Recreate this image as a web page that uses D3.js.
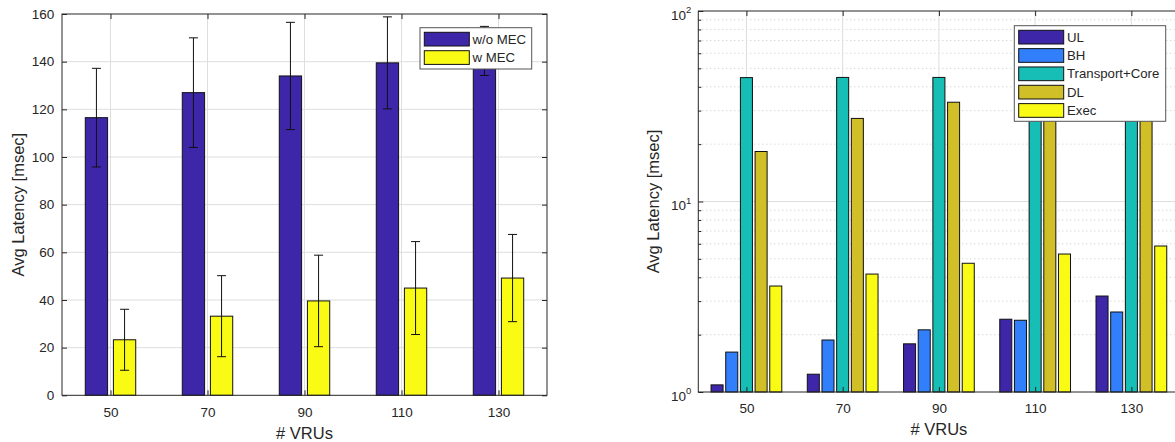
<!DOCTYPE html>
<html>
<head>
<meta charset="utf-8">
<script src="https://cdn.jsdelivr.net/npm/d3@7"></script>
<style>
  html, body { margin: 0; padding: 0; background: #fff; }
  svg { display: block; }
  text { font-family: "Liberation Sans", Arial, Helvetica, sans-serif; fill: #262626; }
</style>
</head>
<body>
<svg id="chart" width="1175" height="442"></svg>
<script>
// ---------- DATA ----------
const categories = [50, 70, 90, 110, 130];

// Left chart: average latency with/without MEC (msec) and error half-widths
const seriesLeftNames = ["w/o MEC", "w MEC"];
const woMEC    = [116.5, 127.0, 134.0, 139.5, 144.5];
const woMECErr = [20.7, 23.0, 22.5, 19.3, 10.3];
const wMEC     = [23.3, 33.2, 39.6, 45.0, 49.2];
const wMECErr  = [12.8, 17.0, 19.2, 19.5, 18.3];
const yTicksLeft = [0, 20, 40, 60, 80, 100, 120, 140, 160];

// Right chart: latency breakdown (log scale, msec)
const seriesRightNames = ["UL", "BH", "Transport+Core", "DL", "Exec"];
const UL            = [1.09, 1.24, 1.79, 2.41, 3.19];
const BH            = [1.62, 1.875, 2.12, 2.38, 2.63];
const TransportCore = [44.7, 44.8, 44.8, 44.8, 44.8];
const DL            = [18.3, 27.3, 33.2, 38.0, 42.0];
const Exec          = [3.6, 4.16, 4.74, 5.3, 5.84];
const yTicksRightExp = [0, 1, 2];
const xLabel = "# VRUs";
const yLabel = "Avg Latency [msec]";

// ---------- STYLE ----------
const colorsLeft  = ["#3e26a8", "#f9fb15"];
const colorsRight = ["#3e26a8", "#317ffa", "#17beb5", "#d0bf27", "#f9fb15"];
const axisColor = "#262626";
const gridColor = "#dedede";
const minorGridColor = "#c8c8c8";

const svg = d3.select("#chart");
svg.append("rect").attr("width", 1175).attr("height", 442).attr("fill", "#fff");

function styleAxis(g) {
  g.select(".domain").remove();
  g.selectAll(".tick line").attr("stroke", axisColor).attr("stroke-width", 1);
  g.selectAll(".tick text").attr("fill", axisColor).style("font-size", "13.5px")
    .attr("font-family", "Liberation Sans, Arial, sans-serif");
}

// ================= LEFT CHART =================
(function () {
  const L = { left: 62, right: 547, top: 14, bottom: 395.3 };
  const x = d3.scaleLinear().domain([40, 140]).range([L.left, L.right]);
  const y = d3.scaleLinear().domain([0, 160]).range([L.bottom, L.top]);
  const g = svg.append("g");

  // grid
  g.selectAll("line.hgrid").data(yTicksLeft.slice(1, -1)).join("line")
    .attr("x1", L.left).attr("x2", L.right)
    .attr("y1", d => y(d)).attr("y2", d => y(d))
    .attr("stroke", gridColor).attr("stroke-width", 1);
  g.selectAll("line.vgrid").data(categories).join("line")
    .attr("x1", d => x(d)).attr("x2", d => x(d))
    .attr("y1", L.top).attr("y2", L.bottom)
    .attr("stroke", gridColor).attr("stroke-width", 1);

  // bars
  const series = [
    { vals: woMEC, err: woMECErr, color: colorsLeft[0], off: -2.9 },
    { vals: wMEC, err: wMECErr, color: colorsLeft[1], off: 2.9 }
  ];
  const barW = x(4.6) - x(0);
  series.forEach(s => {
    const data = categories.map((c, i) => ({ c, v: s.vals[i], e: s.err[i] }));
    g.append("g").selectAll("rect").data(data).join("rect")
      .attr("x", d => x(d.c + s.off) - barW / 2)
      .attr("width", barW)
      .attr("y", d => y(d.v))
      .attr("height", d => y(0) - y(d.v))
      .attr("fill", s.color).attr("stroke", "#111").attr("stroke-width", 1);
    const eg = g.append("g").attr("stroke", "#111").attr("stroke-width", 1);
    data.forEach(d => {
      const cx = x(d.c + s.off);
      eg.append("line").attr("x1", cx).attr("x2", cx).attr("y1", y(d.v - d.e)).attr("y2", y(d.v + d.e));
      eg.append("line").attr("x1", cx - 4.5).attr("x2", cx + 4.5).attr("y1", y(d.v - d.e)).attr("y2", y(d.v - d.e));
      eg.append("line").attr("x1", cx - 4.5).attr("x2", cx + 4.5).attr("y1", y(d.v + d.e)).attr("y2", y(d.v + d.e));
    });
  });

  // axes
  g.append("g").attr("transform", `translate(${L.left},0)`)
    .call(d3.axisLeft(y).tickValues(yTicksLeft).tickSizeInner(-5).tickSizeOuter(0).tickPadding(7.7))
    .call(styleAxis);
  g.append("g").attr("transform", `translate(${L.right},0)`)
    .call(d3.axisRight(y).tickValues(yTicksLeft).tickSizeInner(-5).tickSizeOuter(0).tickFormat(""))
    .call(styleAxis);
  g.append("g").attr("transform", `translate(0,${L.bottom})`)
    .call(d3.axisBottom(x).tickValues(categories).tickSizeInner(-5).tickSizeOuter(0).tickPadding(12.5))
    .call(styleAxis);
  g.append("g").attr("transform", `translate(0,${L.top})`)
    .call(d3.axisTop(x).tickValues(categories).tickSizeInner(-5).tickSizeOuter(0).tickFormat(""))
    .call(styleAxis);
  g.append("rect").attr("x", L.left).attr("y", L.top)
    .attr("width", L.right - L.left).attr("height", L.bottom - L.top)
    .attr("fill", "none").attr("stroke", axisColor).attr("stroke-width", 1);

  // labels
  g.append("text").attr("transform", `translate(18,${(L.top + L.bottom) / 2}) rotate(-90)`)
    .attr("text-anchor", "middle").attr("dy", "0.35em").style("font-size", "16.5px").text(yLabel);
  g.append("text").attr("x", (L.left + L.right) / 2).attr("y", 433.3)
    .attr("text-anchor", "middle").attr("dy", "0.35em").style("font-size", "16.5px").text(xLabel);

  // legend
  const lg = g.append("g");
  lg.append("rect").attr("x", 420).attr("y", 27.7).attr("width", 111.7).attr("height", 41.3)
    .attr("fill", "#fff").attr("stroke", "#555").attr("stroke-width", 1);
  seriesLeftNames.forEach((n, i) => {
    lg.append("rect").attr("x", 424.3).attr("y", 32.3 + i * 18.4).attr("width", 45).attr("height", 13.7)
      .attr("fill", colorsLeft[i]).attr("stroke", "#111").attr("stroke-width", 1);
    lg.append("text").attr("x", 472.5).attr("y", 32.3 + i * 18.4 + 6.85).attr("dy", "0.35em")
      .style("font-size", "13.2px").text(n);
  });
})();

// ================= RIGHT CHART =================
(function () {
  const R = { left: 698.3, right: 1179.5, top: 11, bottom: 392 };
  const x = d3.scaleLinear().domain([40, 140]).range([R.left, R.right]);
  const y = d3.scaleLog().domain([1, 100]).range([R.bottom, R.top]);
  const g = svg.append("g");

  const majors = yTicksRightExp.map(e => Math.pow(10, e));
  const minors = [];
  for (let e = 0; e < 2; e++) for (let k = 2; k <= 9; k++) minors.push(k * Math.pow(10, e));

  // grid
  g.selectAll("line.mgrid").data(minors).join("line")
    .attr("x1", R.left).attr("x2", R.right)
    .attr("y1", d => y(d)).attr("y2", d => y(d))
    .attr("stroke", minorGridColor).attr("stroke-width", 1).attr("stroke-dasharray", "1,3");
  g.selectAll("line.hgrid").data(majors.slice(1, -1)).join("line")
    .attr("x1", R.left).attr("x2", R.right)
    .attr("y1", d => y(d)).attr("y2", d => y(d))
    .attr("stroke", gridColor).attr("stroke-width", 1);
  g.selectAll("line.vgrid").data(categories).join("line")
    .attr("x1", d => x(d)).attr("x2", d => x(d))
    .attr("y1", R.top).attr("y2", R.bottom)
    .attr("stroke", gridColor).attr("stroke-width", 1);

  // bars
  const series = [UL, BH, TransportCore, DL, Exec];
  const step = 3.05, barW = x(2.5) - x(0);
  series.forEach((vals, si) => {
    const off = (si - 2) * step;
    g.append("g").selectAll("rect").data(categories.map((c, i) => ({ c, v: vals[i] }))).join("rect")
      .attr("x", d => x(d.c + off) - barW / 2)
      .attr("width", barW)
      .attr("y", d => y(d.v))
      .attr("height", d => y(1) - y(d.v))
      .attr("fill", colorsRight[si]).attr("stroke", "#111").attr("stroke-width", 1);
  });

  // axes
  const ya = g.append("g").attr("transform", `translate(${R.left},0)`)
    .call(d3.axisLeft(y).tickValues(majors).tickSizeInner(-5).tickSizeOuter(0).tickPadding(7).tickFormat(""))
    .call(styleAxis);
  ya.selectAll(".tick text").each(function (d) {
    const t = d3.select(this).attr("y", 4).attr("dy", "0.32em").attr("text-anchor", "end");
    t.text(null);
    t.append("tspan").text("10");
    t.append("tspan").attr("dy", -6.5).style("font-size", "9.5px").text(String(Math.round(Math.log10(d))));
  });
  g.append("g").attr("transform", `translate(${R.left},0)`)
    .call(d3.axisLeft(y).tickValues(minors).tickSizeInner(-3).tickSizeOuter(0).tickFormat(""))
    .call(styleAxis);
  g.append("g").attr("transform", `translate(0,${R.bottom})`)
    .call(d3.axisBottom(x).tickValues(categories).tickSizeInner(-5).tickSizeOuter(0).tickPadding(11.8))
    .call(styleAxis);
  g.append("g").attr("transform", `translate(0,${R.top})`)
    .call(d3.axisTop(x).tickValues(categories).tickSizeInner(-5).tickSizeOuter(0).tickFormat(""))
    .call(styleAxis);
  g.append("rect").attr("x", R.left).attr("y", R.top)
    .attr("width", R.right - R.left).attr("height", R.bottom - R.top)
    .attr("fill", "none").attr("stroke", axisColor).attr("stroke-width", 1);

  // labels
  g.append("text").attr("transform", `translate(653.3,${(R.top + R.bottom) / 2}) rotate(-90)`)
    .attr("text-anchor", "middle").attr("dy", "0.35em").style("font-size", "16.5px").text(yLabel);
  g.append("text").attr("x", (R.left + R.right) / 2).attr("y", 429.5)
    .attr("text-anchor", "middle").attr("dy", "0.35em").style("font-size", "16.5px").text(xLabel);

  // legend
  const lg = g.append("g");
  lg.append("rect").attr("x", 1014.3).attr("y", 25.7).attr("width", 151.4).attr("height", 95.6)
    .attr("fill", "#fff").attr("stroke", "#555").attr("stroke-width", 1);
  seriesRightNames.forEach((n, i) => {
    lg.append("rect").attr("x", 1018.7).attr("y", 30.3 + i * 18.33).attr("width", 45).attr("height", 13.7)
      .attr("fill", colorsRight[i]).attr("stroke", "#111").attr("stroke-width", 1);
    lg.append("text").attr("x", 1067).attr("y", 30.3 + i * 18.33 + 6.85).attr("dy", "0.35em")
      .style("font-size", "13.2px").text(n);
  });
})();
</script>
</body>
</html>
